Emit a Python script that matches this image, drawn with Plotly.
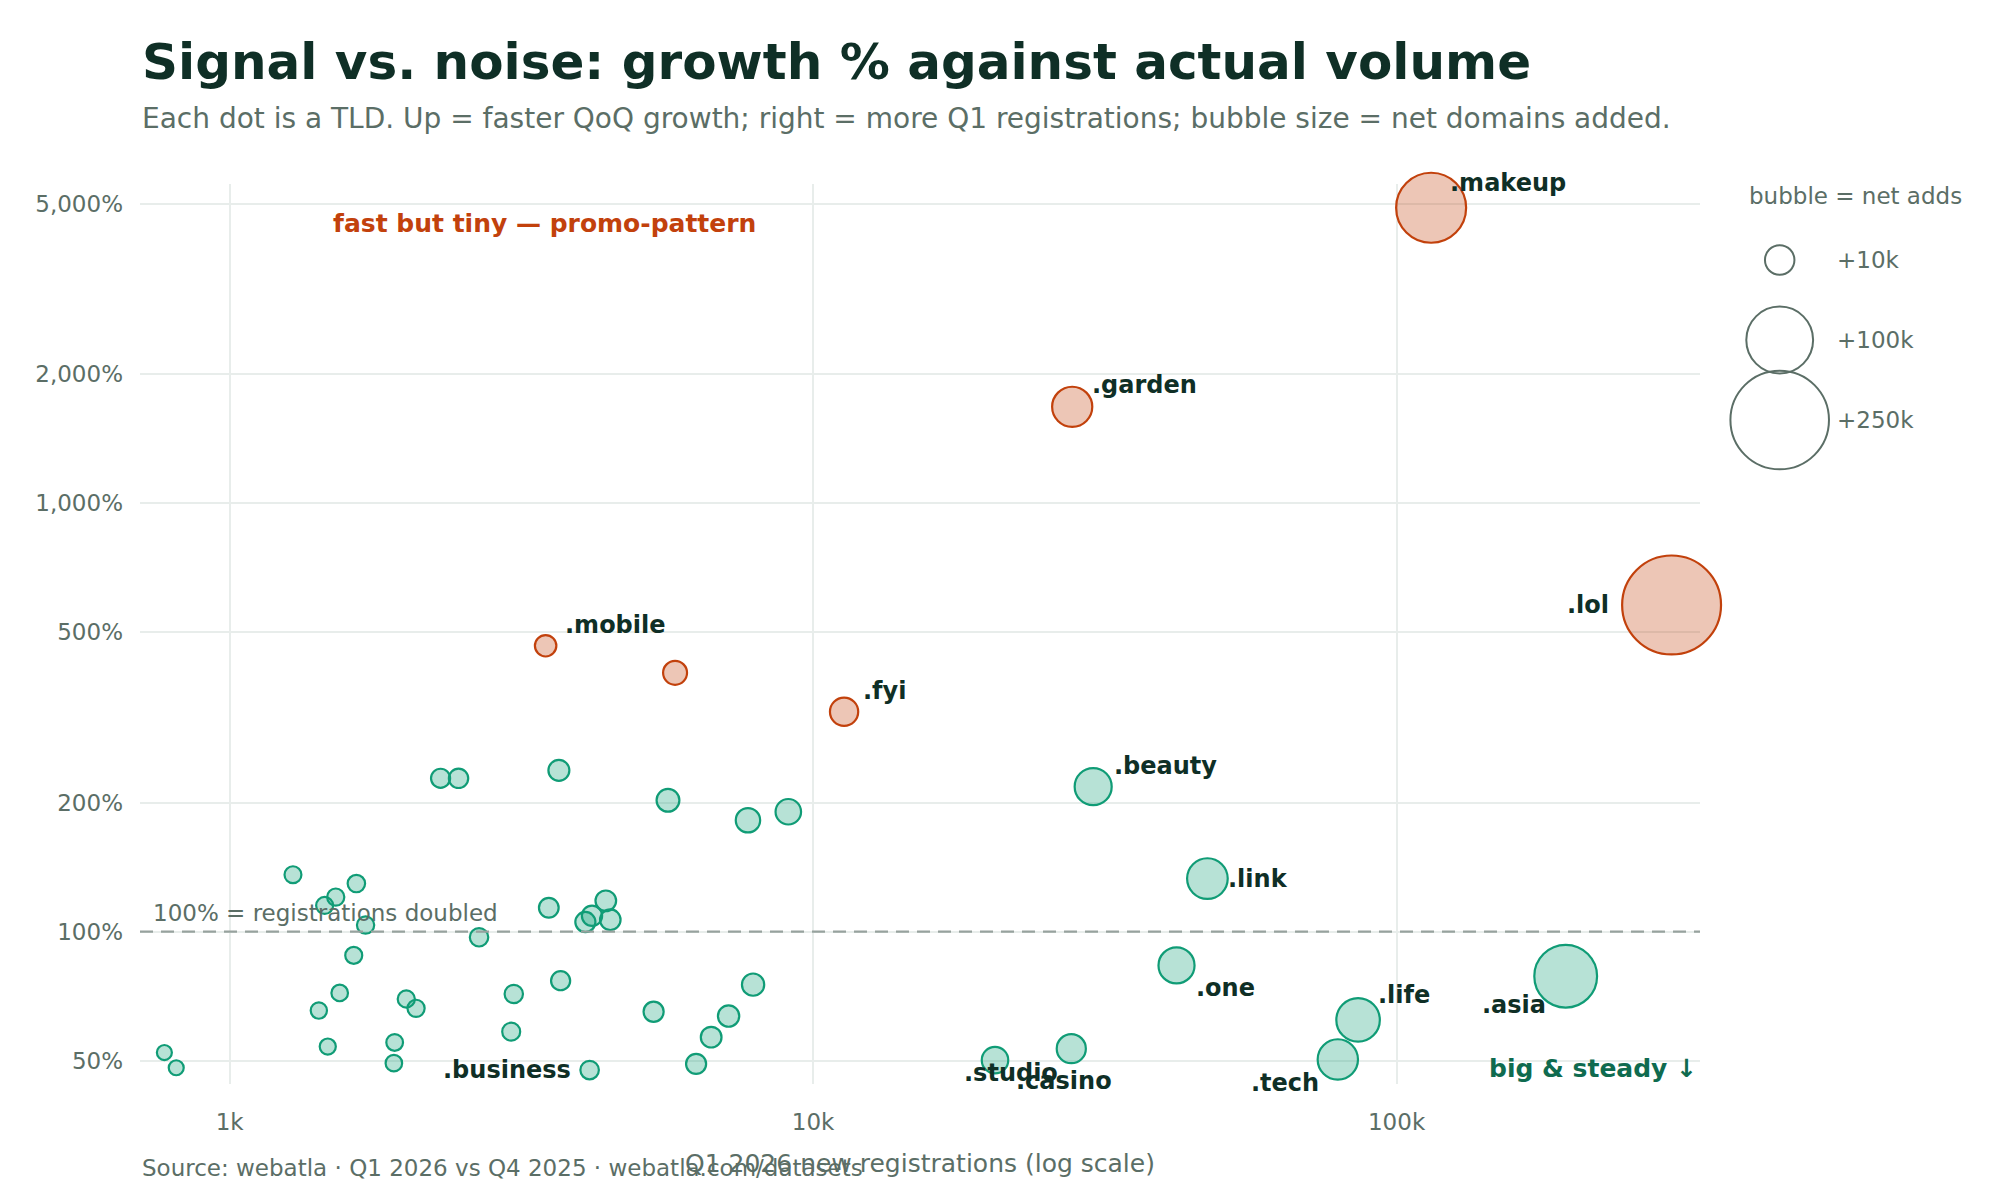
import plotly.graph_objects as go
import math

# ---------------- data ----------------
tld_labels = [
    ".makeup", ".garden", ".lol", ".mobile", "", ".fyi",
    ".beauty", ".link", ".one", ".life", ".asia", ".tech", ".casino", ".studio", ".business",
    "", "", "", "", "", "", "", "", "", "", "", "", "", "", "", "", "", "", "", "", "",
    "", "", "", "", "", "", "", "", "", "", "", "", "", "",
]
registrations = [
    114600, 27800, 296000, 3480, 5800, 11300,
    30200, 47400, 41960, 85900, 194900, 79300, 27700, 20500, 4140,
    773, 810, 1284, 1455, 1520, 1649, 1710, 1632, 1544, 1422, 1473, 1918, 1912, 2008, 2087,
    2299, 2468, 2676, 3069, 3038, 3667, 3524, 3692, 4071, 4179, 4413, 4492, 5640, 5329, 6302,
    7733, 9068, 7891, 7164, 6688,
]
growth_pct = [
    4900, 1680, 579, 465, 402, 326,
    218, 133, 83.4, 62.2, 78.7, 50.3, 53.3, 50.1, 47.5,
    52.2, 48.1, 135.8, 115.1, 120.4, 129.5, 103.6, 88.0, 71.9, 65.4, 53.9, 55.1, 49.3, 69.6, 66.2,
    228, 228, 97.0, 71.5, 58.4, 238, 113.7, 76.8, 105.3, 108.9, 118.0, 106.6, 202.6, 65.0, 49.1,
    182, 190.5, 75.2, 63.5, 56.7,
]
net_adds = [
    112000, 26200, 252000, 2860, 4640, 8650,
    20700, 27100, 19100, 32900, 85800, 26500, 9630, 6840, 1330,
    265, 263, 739, 779, 830, 930, 870, 764, 646, 562, 516, 681, 631, 824, 831,
    1598, 1716, 1318, 1279, 1120, 2582, 1875, 1604, 2088, 2178, 2389, 2318, 3776, 2099, 2075,
    4991, 5947, 3387, 2782, 2420,
]
segment = ["promo"] * 6 + ["steady"] * 44

y_tick_values = [50, 100, 200, 500, 1000, 2000, 5000]
y_tick_text = ["50%", "100%", "200%", "500%", "1,000%", "2,000%", "5,000%"]
x_tick_values = [1000, 10000, 100000]
x_tick_text = ["1k", "10k", "100k"]

legend_values = [10000, 100000, 250000]
legend_text = ["+10k", "+100k", "+250k"]

# ---------------- styling ----------------
FONT = "DejaVu Sans"
INK = "#0f2f26"
MUTED = "#5b6e66"
GRID = "#e8edeb"
ORANGE = "#c2410c"
GREEN = "#109c76"
LINE_W = 2.2


def bubble_size(v):
    return 12.2 + 0.1727 * math.sqrt(v)


label_place = {
    ".makeup": ("left", 17, 25),
    ".garden": ("left", 18, 22),
    ".mobile": ("left", 17, 21),
    ".fyi": ("left", 17, 21),
    ".beauty": ("left", 19, 21),
    ".link": ("left", 19, 0),
    ".one": ("left", 17, -23),
    ".life": ("left", 18, 25),
    ".asia": ("right", -18, -29),
    ".lol": ("right", -61, 0),
    ".tech": ("right", -17, -24),
    ".casino": ("left", -57, -32),
    ".studio": ("left", -33, -13),
    ".business": ("right", -17, 0),
}

fig = go.Figure()

for seg, col, fill in [("steady", GREEN, "rgba(16,160,120,0.30)"),
                       ("promo", ORANGE, "rgba(194,65,12,0.30)")]:
    idx = [i for i, s in enumerate(segment) if s == seg]
    fig.add_trace(go.Scatter(
        x=[registrations[i] for i in idx],
        y=[growth_pct[i] for i in idx],
        mode="markers",
        marker=dict(
            size=[bubble_size(net_adds[i]) for i in idx],
            color=fill,
            opacity=1,
            line=dict(color=col, width=LINE_W),
        ),
        text=[tld_labels[i] for i in idx],
        hoverinfo="text",
        showlegend=False,
        cliponaxis=False,
        xaxis="x", yaxis="y",
    ))

# size key
fig.add_trace(go.Scatter(
    x=["key"] * len(legend_values),
    y=legend_text,
    mode="markers",
    marker=dict(size=[bubble_size(v) for v in legend_values],
                color="rgba(255,255,255,0)",
                opacity=1,
                line=dict(color=MUTED, width=2)),
    hoverinfo="skip",
    showlegend=False,
    cliponaxis=False,
    xaxis="x2", yaxis="y2",
))

annotations = []
for i, lab in enumerate(tld_labels):
    if not lab:
        continue
    anchor, dx, dy = label_place[lab]
    annotations.append(dict(
        x=math.log10(registrations[i]), y=math.log10(growth_pct[i]),
        xref="x", yref="y", text="<b>" + lab + "</b>", showarrow=False,
        xanchor=anchor, yanchor="middle", xshift=dx, yshift=dy,
        font=dict(family=FONT, size=24, color=INK),
    ))

for lt in legend_text:
    annotations.append(dict(
        x="key", y=lt, xref="x2", yref="y2", text=lt, showarrow=False,
        xanchor="left", yanchor="middle", xshift=55,
        font=dict(family=FONT, size=23, color=MUTED),
    ))

PW = 1840.0   # paper width in px
PH = 900.0    # paper height in px


def px(xp):
    return (xp - 140) / PW


def py(yp):
    return (1084 - yp) / PH


annotations += [
    dict(x=px(140), y=py(62), xref="paper", yref="paper", xanchor="left", yanchor="middle",
         text="<b>Signal vs. noise: growth % against actual volume</b>", showarrow=False,
         font=dict(family=FONT, size=50, color=INK)),
    dict(x=px(140), y=py(118), xref="paper", yref="paper", xanchor="left", yanchor="middle",
         text="Each dot is a TLD. Up = faster QoQ growth; right = more Q1 registrations; bubble size = net domains added.",
         showarrow=False, font=dict(family=FONT, size=28, color=MUTED)),
    dict(x=px(140), y=py(1168), xref="paper", yref="paper", xanchor="left", yanchor="middle",
         text="Source: webatla · Q1 2026 vs Q4 2025 · webatla.com/datasets", showarrow=False,
         font=dict(family=FONT, size=23, color=MUTED)),
    dict(x=px(331), y=py(224), xref="paper", yref="paper", xanchor="left", yanchor="middle",
         text="<b>fast but tiny — promo-pattern</b>", showarrow=False,
         font=dict(family=FONT, size=25, color=ORANGE)),
    dict(x=px(1699), y=py(1068), xref="paper", yref="paper", xanchor="right", yanchor="middle",
         text="<b>big &amp; steady ↓</b>", showarrow=False,
         font=dict(family=FONT, size=25, color="#0f6b4f")),
    dict(x=px(151), y=2, xref="paper", yref="y", xanchor="left", yanchor="middle", yshift=19,
         text="100% = registrations doubled", showarrow=False,
         font=dict(family=FONT, size=23, color=MUTED)),
    dict(x=px(1855), y=py(196), xref="paper", yref="paper", xanchor="center", yanchor="middle",
         text="bubble = net adds", showarrow=False,
         font=dict(family=FONT, size=23, color=MUTED)),
]

fig.update_layout(
    width=2000, height=1200,
    margin=dict(l=140, r=20, t=184, b=116),
    paper_bgcolor="white", plot_bgcolor="white",
    font=dict(family=FONT, color=MUTED),
    xaxis=dict(
        type="log", domain=[0, 1560 / PW], range=[2.8464, 5.520],
        tickvals=x_tick_values, ticktext=x_tick_text,
        showgrid=True, gridcolor=GRID, gridwidth=2, zeroline=False, showline=False,
        ticks="", ticklabelstandoff=22,
        tickfont=dict(family=FONT, size=23, color=MUTED),
        title=dict(text="Q1 2026 new registrations (log scale)", standoff=20,
                   font=dict(family=FONT, size=25, color=MUTED)),
    ),
    yaxis=dict(
        type="log", range=[1.6442, 3.7456],
        tickvals=y_tick_values, ticktext=y_tick_text,
        showgrid=True, gridcolor=GRID, gridwidth=2, zeroline=False, showline=False,
        ticks="", ticklabelstandoff=16,
        tickfont=dict(family=FONT, size=23, color=MUTED),
    ),
    xaxis2=dict(domain=[1560 / PW, 1.0], anchor="y2", type="category",
                range=[-1, 2.513], visible=False, fixedrange=True),
    yaxis2=dict(domain=[0, 1], anchor="x2", type="category",
                range=[10.3, -0.95], visible=False, fixedrange=True),
    shapes=[dict(type="line", xref="x domain", yref="y", x0=0, x1=1, y0=100, y1=100,
                 line=dict(color="#97a29e", width=2.2, dash="13px,8px"), layer="above")],
    annotations=annotations,
)

fig.write_html("out.html")
